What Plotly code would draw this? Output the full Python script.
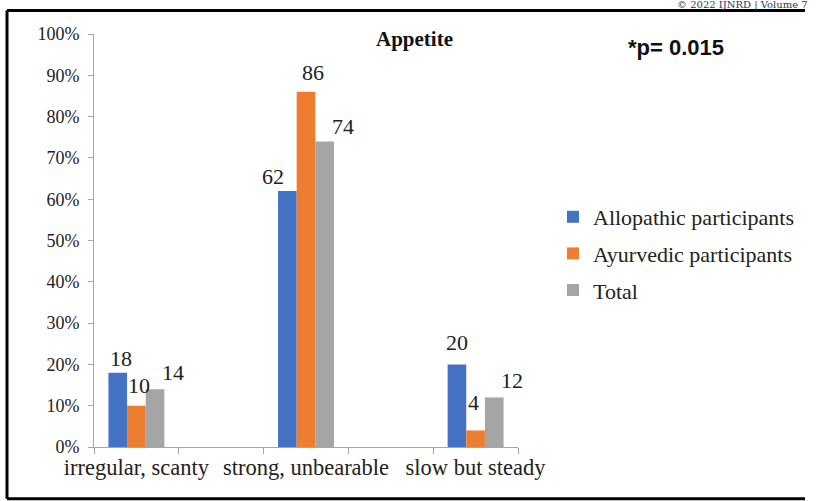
import plotly.graph_objects as go

# ---- data ----
categories = ["irregular, scanty", "strong, unbearable", "slow but steady"]
allopathic = [18, 62, 20]
ayurvedic = [10, 86, 4]
total = [14, 74, 12]
series_names = ["Allopathic participants", "Ayurvedic participants", "Total"]
y_ticks = [0, 10, 20, 30, 40, 50, 60, 70, 80, 90, 100]
y_tick_labels = [f"{v}%" for v in y_ticks]

# ---- layout geometry (pixels) ----
W, H = 816, 501
L, R, T, B = 94, 298, 34, 54
PW, PH = W - L - R, H - T - B

def px_x(px):
    return (px - L) / PW

def px_y(py):
    return (H - B - py) / PH

colors = ["#4472C4", "#ED7D31", "#A5A5A5"]
cat_pos = [0.5, 2.5, 4.5]
bar_w = 0.22
offsets = [-0.33, -0.11, 0.11]
# label nudges (pixels) per series, per category: (dx, dy)
label_nudge = [
    [(3, 0), (-14, 0), (0, 7)],
    [(3, 6), (7, 5), (-2, 13)],
    [(18, 2), (18, 0), (18, 2)],
]

fig = go.Figure()
all_vals = [allopathic, ayurvedic, total]
for i, (name, vals) in enumerate(zip(series_names, all_vals)):
    fig.add_trace(go.Bar(
        x=cat_pos, y=vals, name=name, width=bar_w, offset=offsets[i],
        marker=dict(color=colors[i], line=dict(width=0)),
        legendgroup=name,
    ))

annotations = []
for i, vals in enumerate(all_vals):
    for j, v in enumerate(vals):
        dx, dy = label_nudge[i][j]
        annotations.append(dict(
            x=cat_pos[j] + offsets[i] + bar_w / 2, y=v, xref="x", yref="y",
            text=str(v), showarrow=False, xanchor="center", yanchor="bottom",
            xshift=dx, yshift=dy,
            font=dict(family="Liberation Serif", size=22, color="#222222"),
        ))

annotations.append(dict(
    x=px_x(414), y=px_y(39), xref="paper", yref="paper", text="<b>Appetite</b>",
    showarrow=False, xanchor="center", yanchor="middle",
    font=dict(family="Liberation Serif", size=21, color="#111111"),
))
annotations.append(dict(
    x=px_x(626), y=px_y(47), xref="paper", yref="paper", text="<b>*p= 0.015</b>",
    showarrow=False, xanchor="left", yanchor="middle",
    font=dict(family="Liberation Sans", size=22, color="#111111"),
))
annotations.append(dict(
    x=px_x(810), y=px_y(5), xref="paper", yref="paper",
    text="© 2022 IJNRD | Volume 7",
    showarrow=False, xanchor="right", yanchor="middle",
    font=dict(family="DejaVu Serif", size=10, color="#1F3864"),
))

border = dict(color="black", width=3)
bx0, bx1 = px_x(7), px_x(805)
by_top, by_bot = px_y(10.5), px_y(498.7)
shapes = [
    dict(type="line", xref="paper", yref="paper", x0=bx0, x1=bx0, y0=by_bot, y1=by_top, line=border),
    dict(type="line", xref="paper", yref="paper", x0=bx0, x1=bx1, y0=by_top, y1=by_top, line=border),
    dict(type="line", xref="paper", yref="paper", x0=bx0, x1=bx1, y0=by_bot, y1=by_bot, line=border),
]

axis_gray = "#A6A6A6"
fig.update_layout(
    width=W, height=H,
    margin=dict(l=L, r=R, t=T, b=B, pad=0),
    paper_bgcolor="white", plot_bgcolor="white",
    barmode="overlay",
    showlegend=True,
    legend=dict(
        x=px_x(553), y=px_y(196), xanchor="left", yanchor="top",
        font=dict(family="Liberation Serif", size=22, color="#222222"),
        traceorder="grouped", tracegroupgap=5, itemwidth=30,
        bgcolor="rgba(0,0,0,0)",
    ),
    xaxis=dict(
        range=[0, 5], tickvals=cat_pos, ticktext=categories, ticks="",
        showline=True, linecolor=axis_gray, linewidth=1, showgrid=False,
        zeroline=False, fixedrange=True,
        tickfont=dict(family="Liberation Serif", size=22.5, color="#222222"),
        minor=dict(tick0=0, dtick=1, ticks="outside", ticklen=6,
                   tickcolor=axis_gray, showgrid=False),
    ),
    yaxis=dict(
        range=[0, 100], tickvals=y_ticks, ticktext=y_tick_labels,
        ticks="outside", ticklen=5, tickcolor=axis_gray,
        showline=True, linecolor=axis_gray, linewidth=1, showgrid=False,
        zeroline=False, ticklabelstandoff=5, fixedrange=True,
        tickfont=dict(family="Liberation Serif", size=18, color="#222222"),
    ),
    annotations=annotations,
    shapes=shapes,
)

fig.write_html("out.html", config={"displayModeBar": False},
               post_script="document.body.style.margin='0';")
